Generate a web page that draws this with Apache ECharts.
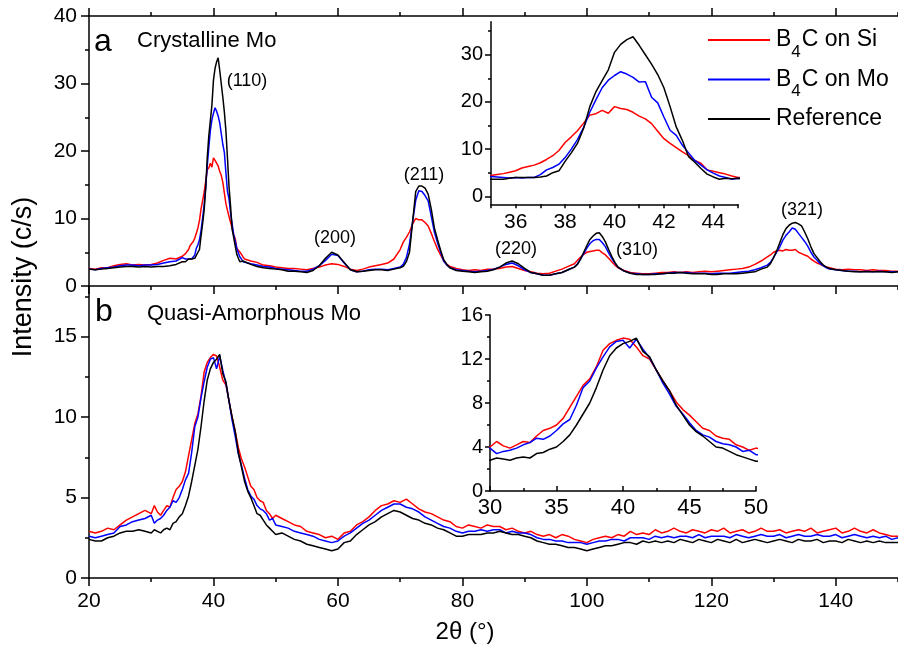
<!DOCTYPE html>
<html><head><meta charset="utf-8">
<script src="https://cdn.jsdelivr.net/npm/echarts@6/dist/echarts.min.js"></script>
<style>html,body{margin:0;padding:0;background:#fff}#c{width:898px;height:647px}</style>
</head><body><div id="c"></div><script>
const FONT = '"Liberation Sans", Arial, Helvetica, sans-serif';
const seriesNames = ['B4C on Si', 'B4C on Mo', 'Reference'];
const seriesColors = ['#ff0000', '#0000ff', '#000000'];

// ---- Panel a (crystalline Mo): 2theta grid and intensities (c/s)
const xA = [20,21,22,23,24,25,26,27,28,29,30,31,32,33,34,
35,35.25,35.5,35.75,36,36.25,36.5,36.75,37,37.25,37.5,37.75,38,38.25,38.5,38.75,39,39.25,39.5,39.75,40,40.25,40.5,40.75,41,41.25,41.5,41.75,42,42.25,42.5,42.75,43,43.25,43.5,43.75,44,44.25,44.5,44.75,45,
46,47,48,49,50,51,52,53,54,55,56,57,58,59,60,61,62,63,64,65,66,67,68,69,70,
70.5,71,71.5,72,72.5,73,73.5,74,74.5,75,75.5,76,76.5,77,77.5,78,
79,80,81,82,83,84,85,86,87,88,89,90,91,92,93,94,95,96,97,
98,98.5,99,99.5,100,100.5,101,101.5,102,102.5,103,103.5,104,104.5,105,
106,107,108,109,110,111,112,113,114,115,116,117,118,119,120,121,122,123,124,125,126,127,128,
129,129.5,130,130.5,131,131.5,132,132.5,133,133.5,134,134.5,135,135.5,136,136.5,137,137.5,138,138.5,139,
140,141,142,143,144,145,146,147,148,149,150];

const siA = [2.6,2.5,2.7,2.7,3.0,3.2,3.3,3.1,3.2,3.1,3.2,3.4,3.8,4.1,4.0,
4.4,4.6,4.8,5.1,5.4,6.0,6.3,6.6,7.1,7.8,8.6,9.7,11.4,12.6,13.9,15.5,17.2,17.5,18.2,17.6,19.0,18.6,18.4,17.8,17.0,16.4,15.4,13.8,12.2,11.2,10.3,9.4,8.6,7.6,7.0,5.6,5.3,5.0,4.7,4.3,4.0,
3.7,3.5,3.1,3.0,2.8,2.7,2.6,2.6,2.5,2.4,2.6,2.8,3.1,3.3,3.2,2.9,2.5,2.3,2.5,2.8,3.0,3.2,3.4,4.0,5.4,
6.5,7.2,8.0,9.2,10.0,9.8,9.8,9.4,8.9,7.8,6.6,5.5,4.6,3.7,3.2,2.9,
2.6,2.4,2.3,2.4,2.3,2.5,2.5,2.6,2.8,2.9,2.6,2.3,2.1,1.9,1.8,1.9,2.2,2.5,2.9,
3.3,3.8,4.3,4.7,5.0,5.1,5.2,5.3,5.3,4.9,4.6,4.1,3.6,3.1,2.7,
2.3,2.0,1.9,1.8,1.8,1.9,2.0,2.0,2.1,2.0,2.1,2.0,2.1,2.2,2.1,2.2,2.3,2.4,2.5,2.6,2.8,3.2,3.7,
4.3,4.6,5.0,5.2,5.3,5.2,5.4,5.3,5.3,5.4,5.0,4.8,4.6,4.4,4.0,3.7,3.4,3.2,3.0,2.8,2.7,
2.5,2.4,2.5,2.4,2.4,2.3,2.4,2.3,2.3,2.2,2.2];

const moA = [2.5,2.4,2.6,2.7,2.8,3.0,3.1,3.1,3.0,3.1,3.1,3.2,3.4,3.6,3.7,
4.2,4.1,4.0,3.9,4.0,3.9,4.0,4.0,4.6,5.6,6.1,6.8,8.2,10.0,12.0,14.6,17.8,20.5,23.0,24.6,25.6,26.4,25.9,25.2,24.2,24.3,21.0,19.8,16.8,14.0,12.9,10.8,9.2,7.6,6.6,5.6,4.9,4.3,4.0,3.6,3.8,
3.3,3.1,2.9,2.8,2.6,2.5,2.4,2.3,2.2,2.2,2.5,3.0,3.8,4.7,4.5,3.4,2.4,2.1,2.2,2.4,2.5,2.5,2.4,2.6,2.8,
3.2,4.2,6.2,9.5,12.7,14.1,14.0,13.4,12.6,10.3,8.0,6.4,5.0,3.7,3.1,2.7,
2.4,2.3,2.2,2.1,2.2,2.3,2.5,2.8,3.2,3.4,3.0,2.4,2.0,1.8,1.6,1.6,1.8,2.0,2.4,
2.8,3.3,4.0,4.8,5.6,6.3,6.7,6.9,6.9,6.4,5.8,4.9,4.1,3.4,2.8,
2.2,1.9,1.8,1.7,1.7,1.8,1.8,1.9,2.0,2.0,2.0,1.9,1.9,1.9,1.8,1.9,1.9,1.9,2.0,2.1,2.2,2.4,2.7,
3.1,3.5,4.2,5.0,5.8,6.8,7.5,8.0,8.6,8.4,7.8,7.2,6.6,5.9,5.0,4.3,3.8,3.3,3.0,2.7,2.5,
2.4,2.3,2.2,2.2,2.1,2.2,2.1,2.2,2.1,2.1,2.1];

const refA = [2.5,2.4,2.5,2.6,2.7,2.8,2.9,2.9,2.8,2.9,2.8,2.9,2.9,3.0,3.2,
3.6,3.6,3.6,3.8,4.0,4.0,4.0,4.0,4.1,4.3,5.0,5.4,7.4,9.2,11.2,14.4,19.0,22.2,24.5,26.8,30.5,32.2,33.2,33.8,32.0,30.0,28.0,25.8,23.0,19.0,14.7,11.8,8.4,7.2,5.9,4.7,4.1,3.6,3.8,3.7,3.8,
3.2,2.9,2.7,2.6,2.5,2.4,2.2,2.2,2.1,2.0,2.3,3.0,4.1,5.0,4.6,3.5,2.4,2.1,2.2,2.3,2.4,2.4,2.3,2.5,2.7,
2.9,3.6,5.0,9.5,14.0,14.8,14.8,14.5,13.6,11.4,8.6,6.9,5.3,3.9,3.2,2.7,
2.3,2.2,2.1,2.0,2.1,2.2,2.4,2.8,3.4,3.7,3.3,2.6,2.0,1.8,1.6,1.6,1.8,2.0,2.4,
2.8,3.2,4.0,5.0,6.0,6.9,7.4,7.8,7.9,7.3,6.5,5.4,4.4,3.5,2.8,
2.2,1.9,1.7,1.7,1.7,1.7,1.8,1.9,1.9,2.0,1.9,1.8,1.8,1.8,1.7,1.7,1.8,1.8,1.8,1.9,2.0,2.1,2.5,
2.8,3.3,4.2,5.2,6.4,7.6,8.5,9.0,9.3,9.4,9.2,8.9,8.0,7.0,5.8,4.8,4.2,3.6,3.1,2.8,2.6,
2.4,2.3,2.2,2.1,2.1,2.1,2.1,2.1,2.1,2.0,2.1];

// ---- Panel b (quasi-amorphous Mo)
const xB = [20,21,22,23,24,25,26,27,28,29,
30,30.5,31,31.5,32,32.5,33,33.5,34,34.5,35,35.5,36,36.5,37,37.5,38,38.5,39,39.5,40,40.5,41,41.5,42,42.5,43,43.5,44,44.5,45,45.5,46,46.5,47,47.5,48,48.5,49,49.5,50,
51,52,53,54,55,56,57,58,59,60,61,62,63,64,65,66,67,68,69,70,
71,72,73,74,75,76,77,78,79,80,81,82,83,84,85,86,87,88,89,90,
91,92,93,94,95,96,97,98,99,100,101,102,103,104,105,106,107,108,109,110,
111,112,113,114,115,116,117,118,119,120,121,122,123,124,125,126,127,128,129,130,
131,132,133,134,135,136,137,138,139,140,141,142,143,144,145,146,147,148,149,150];

const siB = [2.9,2.8,2.9,3.1,3.0,3.3,3.6,3.8,4.0,4.2,
4.0,4.5,4.1,3.9,4.2,4.5,4.4,5.0,5.5,5.7,6.0,6.6,7.6,8.6,9.6,10.2,11.3,12.8,13.4,13.7,13.9,13.8,13.1,12.3,12.0,11.0,10.0,9.1,8.1,7.4,6.9,6.3,5.7,5.5,5.0,4.8,4.7,4.2,4.0,3.7,3.9,
3.7,3.5,3.3,3.2,2.9,2.8,2.7,2.5,2.6,2.4,
2.8,2.9,3.3,3.5,3.8,4.2,4.5,4.6,4.8,4.7,
4.9,4.6,4.3,4.1,4.0,3.8,3.6,3.5,3.2,3.1,
3.3,3.2,3.1,3.3,3.2,3.2,3.0,3.1,2.9,2.8,
2.9,2.7,2.6,2.7,2.5,2.7,2.6,2.4,2.3,2.2,
2.4,2.5,2.6,2.5,2.7,2.6,2.9,2.7,2.8,2.7,
3.0,2.8,2.9,3.1,2.9,2.8,3.0,2.9,2.8,3.0,
2.9,3.1,2.8,2.9,3.0,2.8,2.9,3.1,2.9,2.9,
3.0,2.8,2.9,3.0,2.9,3.1,2.8,2.9,3.0,3.1,
2.8,2.9,3.1,2.9,2.8,3.0,2.8,2.7,2.6,2.6];

const moB = [2.6,2.5,2.6,2.7,2.8,3.2,3.3,3.5,3.6,3.7,
3.9,3.4,3.6,3.7,3.9,4.2,4.4,4.8,4.7,5.0,5.5,6.1,6.5,7.8,9.4,10.0,11.2,12.2,13.1,13.6,13.7,13.0,13.8,12.9,12.1,11.0,9.8,8.8,7.7,7.0,6.2,5.5,5.1,4.9,4.5,4.3,4.2,4.0,3.6,3.7,3.3,
3.2,3.1,2.9,2.8,2.7,2.6,2.4,2.3,2.2,2.3,
2.6,2.8,3.1,3.4,3.6,3.9,4.2,4.4,4.6,4.6,
4.4,4.3,4.1,3.8,3.6,3.4,3.2,3.1,2.9,2.8,
2.9,2.9,3.0,2.9,3.0,3.0,2.8,2.9,2.8,2.8,
2.7,2.5,2.4,2.4,2.3,2.3,2.2,2.2,2.2,2.1,
2.2,2.3,2.3,2.4,2.4,2.3,2.5,2.5,2.5,2.4,
2.6,2.5,2.6,2.5,2.6,2.6,2.5,2.7,2.5,2.6,
2.6,2.6,2.5,2.7,2.6,2.5,2.6,2.7,2.6,2.6,
2.7,2.5,2.6,2.7,2.6,2.6,2.7,2.6,2.6,2.7,
2.5,2.6,2.7,2.6,2.5,2.6,2.5,2.6,2.4,2.5];

const refB = [2.4,2.3,2.3,2.5,2.6,2.8,2.9,2.9,3.0,2.9,
2.8,3.0,2.9,2.8,3.0,3.1,3.0,3.4,3.5,3.8,4.0,4.5,5.1,6.0,7.0,8.0,9.4,11.0,12.3,13.0,13.4,13.6,13.9,12.7,12.2,11.0,10.0,9.1,7.8,6.9,6.0,5.4,5.0,4.5,4.0,3.9,3.6,3.3,3.1,2.9,2.7,
2.8,2.6,2.4,2.3,2.1,2.0,1.9,1.8,1.7,1.8,
2.2,2.3,2.7,3.0,3.3,3.5,3.8,4.0,4.2,4.1,
3.9,3.7,3.6,3.4,3.3,3.1,3.0,2.8,2.6,2.6,
2.7,2.7,2.7,2.8,2.8,2.9,2.8,2.7,2.7,2.6,
2.5,2.3,2.2,2.1,2.1,2.0,1.9,1.9,1.8,1.7,
1.8,1.9,2.0,2.0,2.1,2.2,2.2,2.1,2.3,2.2,
2.3,2.2,2.3,2.2,2.4,2.3,2.2,2.4,2.3,2.2,
2.4,2.3,2.2,2.4,2.2,2.3,2.4,2.3,2.2,2.3,
2.4,2.3,2.2,2.4,2.3,2.3,2.4,2.2,2.3,2.3,
2.2,2.4,2.3,2.2,2.3,2.2,2.3,2.2,2.2,2.2];

// ---- tick values
const xMajorMain = [20,40,60,80,100,120,140];
const xMinorMain = [30,50,70,90,110,130,150];
const yMajorB = [0,5,10,15];
const yMinorB = [2.5,7.5,12.5,17.5];
const yMajorInsetA = [0,10,20,30];
const yMinorInsetA = [5,15,25,35];

// ---- annotations
const peakLabels = ['(110)','(200)','(211)','(220)','(310)','(321)'];

const chart = echarts.init(document.getElementById('c'), null, {renderer:'canvas'});
const LS = {color:'#000', width:1.5};
const hidden = {show:false};

function xAx(grid, pos, min, max, ticks, len, labels, extra) {
  return Object.assign({
    type:'value', gridIndex:grid, position:pos, min, max,
    axisLine:{show:true, onZero:false, lineStyle:LS},
    axisTick:{show:true, inside:false, length:len, customValues:ticks, lineStyle:LS},
    axisLabel: labels ? {show:true, customValues:labels, color:'#000', fontSize:21, fontFamily:FONT, margin:13} : {show:false},
    splitLine:hidden
  }, extra || {});
}
function minorAx(grid, pos, min, max, ticks, len) {
  return {type:'value', gridIndex:grid, position:pos, min, max,
    axisLine:{show:false}, axisTick:{show:true, inside:false, length:len, customValues:ticks, lineStyle:LS},
    axisLabel:{show:false}, splitLine:hidden};
}

const xAxis = [
  xAx(0,'bottom',20,150,xMajorMain,8,null),             //0
  minorAx(0,'bottom',20,150,xMinorMain,4),                //1
  xAx(0,'top',20,150,xMajorMain,8,null),                //2
  minorAx(0,'top',20,150,xMinorMain,4),                   //3
  xAx(1,'bottom',20,150,xMajorMain,8,xMajorMain),       //4
  minorAx(1,'bottom',20,150,xMinorMain,4),                //5
  { type:'value', gridIndex:2, position:'bottom', min:35, max:45, interval:1,
    axisLine:{show:true, onZero:false, lineStyle:LS},
    axisTick:{show:true, inside:false, length:4, lineStyle:LS},
    axisLabel:{color:'#000', fontSize:21, fontFamily:FONT, margin:7, formatter:v => (v % 2 === 0 ? String(v) : '')},
    splitLine:hidden },                                  //6
  { type:'value', gridIndex:3, position:'bottom', min:30, max:50, interval:5,
    axisLine:{show:true, onZero:false, lineStyle:LS},
    axisTick:{show:true, inside:true, length:5, lineStyle:LS},
    minorTick:{show:true, splitNumber:2, length:3, lineStyle:LS},
    axisLabel:{color:'#000', fontSize:22, fontFamily:FONT, margin:6},
    splitLine:hidden, minorSplitLine:hidden }            //7
];

const yAxis = [
  { type:'value', gridIndex:0, position:'left', min:0, max:40, interval:10,
    axisLine:{show:true, onZero:false, lineStyle:LS},
    axisTick:{show:true, inside:false, length:8, lineStyle:LS},
    minorTick:{show:true, splitNumber:2, length:4, lineStyle:LS},
    axisLabel:{color:'#000', fontSize:21, fontFamily:FONT, margin:12},
    splitLine:hidden, minorSplitLine:hidden },           //0
  { type:'value', gridIndex:1, position:'left', min:0, max:18.15,
    axisLine:{show:true, onZero:false, lineStyle:LS},
    axisTick:{show:true, inside:false, length:8, customValues:yMajorB, lineStyle:LS},
    axisLabel:{color:'#000', fontSize:21, fontFamily:FONT, margin:12, customValues:yMajorB},
    splitLine:hidden },                                  //1
  minorAx(1,'left',0,18.15,yMinorB,4),                   //2
  { type:'value', gridIndex:2, position:'left', min:-1.7, max:37,
    axisLine:{show:true, onZero:false, lineStyle:LS},
    axisTick:{show:true, inside:false, length:6, customValues:yMajorInsetA, lineStyle:LS},
    axisLabel:{color:'#000', fontSize:20, fontFamily:FONT, margin:8, customValues:yMajorInsetA},
    splitLine:hidden },                                  //3
  minorAx(2,'left',-1.7,37,yMinorInsetA,3),              //4
  { type:'value', gridIndex:3, position:'left', min:0, max:16, interval:4,
    axisLine:{show:true, onZero:false, lineStyle:LS},
    axisTick:{show:true, inside:false, length:5, lineStyle:LS},
    minorTick:{show:true, splitNumber:2, length:3, lineStyle:LS},
    axisLabel:{color:'#000', fontSize:20, fontFamily:FONT, margin:7},
    splitLine:hidden, minorSplitLine:hidden }            //5
];

function mk(i, xs, ys, xi, yi) {
  return {name:seriesNames[i], type:'line', xAxisIndex:xi, yAxisIndex:yi,
    data: xs.map((x, k) => [x, ys[k]]), showSymbol:false, symbol:'none',
    lineStyle:{color:seriesColors[i], width:1.5}, itemStyle:{color:seriesColors[i]},
    clip:true, silent:true, animation:false};
}
const series = [];
[[xA,[siA,moA,refA],0,0],[xB,[siB,moB,refB],4,1],[xA,[siA,moA,refA],6,3],[xB,[siB,moB,refB],7,5]].forEach(p => {
  p[1].forEach((ys, i) => series.push(mk(i, p[0], ys, p[2], p[3])));
});

function txt(x, y, s, size, align, extra) {
  return Object.assign({type:'text', x, y, silent:true, z:100,
    style:{text:s, fill:'#000', font:size + 'px ' + FONT, textAlign:align || 'center', textVerticalAlign:'middle'}}, extra || {});
}
const peakPos = [[247,81],[335,238],[424,175],[516,249],[637,250],[802,210]];

const graphic = [
  txt(94, 42, 'a', 32, 'left'),
  txt(137, 41, 'Crystalline Mo', 22, 'left'),
  txt(95, 312, 'b', 32, 'left'),
  txt(147, 314, 'Quasi-Amorphous Mo', 22, 'left'),
  txt(465, 632, '2\u03B8 (\u00B0)', 24, 'center'),
  txt(24, 277, 'Intensity (c/s)', 27, 'center', {rotation: Math.PI / 2})
].concat(peakLabels.map((s, i) => txt(peakPos[i][0], peakPos[i][1], s, 18, 'center')));

chart.setOption({
  animation:false,
  backgroundColor:'#fff',
  grid:[
    {left:89, top:16, width:811, height:270},
    {left:89, top:286, width:811, height:292},
    {left:491, top:21.7, width:247, height:182.6},
    {left:490, top:315, width:266, height:176}
  ],
  xAxis, yAxis, series, graphic,
  legend:{
    data:seriesNames, orient:'vertical', left:708, top:27, padding:0, itemWidth:62, itemHeight:2, icon:'rect',
    itemGap:6, selectedMode:false,
    formatter: n => n.indexOf('B4C') === 0 ? '{m|B}{s|4}{m|C' + n.slice(3) + '}' : '{m|' + n + '}',
    textStyle:{color:'#000', fontSize:23, fontFamily:FONT, lineHeight:26,
      rich:{
        m:{fontSize:23, fontFamily:FONT, color:'#000', lineHeight:26, padding:[0,0,0,1]},
        s:{fontSize:17, fontFamily:FONT, color:'#000', lineHeight:26, height:2, verticalAlign:'bottom'}
      }}
  }
});
</script></body></html>
